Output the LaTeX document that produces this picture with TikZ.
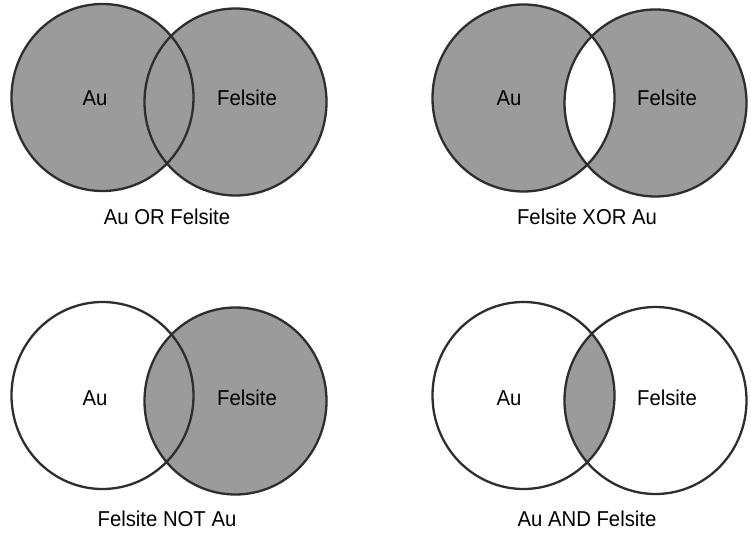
\documentclass[tikz,border=0pt]{standalone}
\usepackage{fontspec}
\setmainfont{Liberation Sans}
\definecolor{vfill}{HTML}{9B9B9B}
\definecolor{vline}{HTML}{2E2E2E}
\tikzset{
  vlabel/.style={font=\fontsize{20.3}{24}\selectfont, inner sep=0pt, yscale=1.06},
  outline/.style={draw=vline, line width=2.3pt},
  vset/.style={x radius=91pt, y radius=93.5pt}
}
\begin{document}
\begin{tikzpicture}[x=1pt,y=-1pt]
\useasboundingbox[fill=white] (0,0) rectangle (751,534);
% centres
\coordinate (A1) at (102.5,97.5);  \coordinate (B1) at (235.5,102);
\coordinate (A2) at (523.5,98);    \coordinate (B2) at (655.5,103);
\coordinate (A3) at (102.5,395.5); \coordinate (B3) at (235.5,401);
\coordinate (A4) at (523.5,395.5); \coordinate (B4) at (655.5,400.5);
% OR
\fill[vfill] (A1) ellipse[vset] (B1) ellipse[vset];
\draw[outline] (A1) ellipse[vset] (B1) ellipse[vset];
% XOR
\fill[vfill, even odd rule] (A2) ellipse[vset] (B2) ellipse[vset];
\draw[outline] (A2) ellipse[vset] (B2) ellipse[vset];
% NOT
\fill[vfill] (B3) ellipse[vset];
\draw[outline] (A3) ellipse[vset] (B3) ellipse[vset];
% AND
\begin{scope}
  \clip (A4) ellipse[vset];
  \fill[vfill] (B4) ellipse[vset];
\end{scope}
\draw[outline] (A4) ellipse[vset] (B4) ellipse[vset];
% labels
\node[vlabel] (la1) at (95,98) {Au};
\node[vlabel] (lb1) at (247,98) {Felsite};
\node[vlabel] (la2) at (509,98) {Au};
\node[vlabel] (lb2) at (667,98) {Felsite};
\node[vlabel] (la3) at (95,398) {Au};
\node[vlabel] (lb3) at (247,398) {Felsite};
\node[vlabel] (la4) at (509,398) {Au};
\node[vlabel] (lb4) at (667,398) {Felsite};
% captions
\node[vlabel] (c1) at (167,217) {Au OR Felsite};
\node[vlabel] (c2) at (587,217) {Felsite XOR Au};
\node[vlabel] (c3) at (167,519) {Felsite NOT Au};
\node[vlabel] (c4) at (587,519) {Au AND Felsite};
\end{tikzpicture}
\end{document}
